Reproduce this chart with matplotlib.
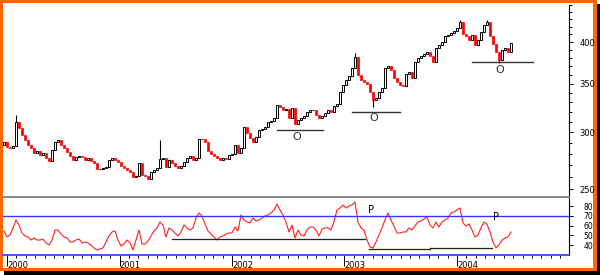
import numpy as np
import matplotlib

matplotlib.use("Agg")
import matplotlib.pyplot as plt
from matplotlib.patches import Rectangle
from matplotlib.ticker import FixedLocator, NullFormatter

# Price closes, roughly every 10 days from early 2000 to mid 2004
closes = [
    290.6, 286.1, 285.1, 287.0, 309.8, 304.0, 297.2, 292.5, 287.9, 285.1,
    280.6, 282.4, 278.8, 280.6, 276.2, 273.5, 283.3, 290.6, 292.5, 287.9,
    285.1, 281.5, 277.9, 274.4, 277.0, 277.9, 277.0, 274.4, 276.2, 273.5,
    271.8, 266.7, 266.7, 267.5, 268.4, 274.4, 276.2, 274.4, 272.7, 269.2,
    267.5, 265.8, 264.1, 259.9, 260.8, 271.8, 261.6, 260.8, 258.3, 264.1,
    265.8, 267.5, 275.3, 276.2, 268.4, 274.4, 271.8, 269.2, 267.5, 269.2,
    272.7, 276.2, 277.9, 274.4, 276.2, 293.4, 293.4, 290.6, 282.4, 279.7,
    277.9, 276.2, 274.4, 276.2, 275.3, 278.8, 279.7, 287.9, 280.6, 285.1,
    304.9, 299.1, 294.4, 290.6, 295.3, 302.0, 303.0, 304.9, 309.8, 310.8,
    313.8, 327.1, 325.1, 322.0, 323.0, 313.8, 324.0, 307.9, 311.8, 313.8,
    315.9, 320.0, 322.0, 322.0, 316.9, 313.8, 315.9, 318.9, 322.0, 320.0,
    326.1, 328.2, 341.0, 348.7, 354.3, 358.9, 368.2, 381.3, 360.0, 354.3,
    352.1, 349.8, 341.0, 332.4, 334.6, 341.0, 345.4, 368.2, 370.5, 365.8,
    356.6, 352.1, 348.7, 347.6, 361.2, 363.5, 356.6, 375.2, 380.0, 382.5,
    384.9, 387.4, 382.5, 375.2, 392.4, 396.2, 400.0, 407.7, 409.0, 411.6,
    414.3, 418.3, 426.4, 410.3, 407.7, 402.6, 409.0, 396.2, 402.6, 413.0,
    422.3, 426.4, 407.7, 397.5, 387.4, 377.6, 389.9, 392.4, 387.4, 398.7,
]
first_open = 288.0

# RSI oscillator, same dates
rsi = [
    54.5, 48.4, 50.4, 57.6, 65.7, 60.6, 52.5, 49.4, 48.4, 45.3,
    47.4, 45.3, 45.3, 46.3, 42.3, 40.2, 45.3, 55.5, 55.5, 51.4,
    48.4, 47.4, 43.3, 43.3, 45.3, 46.3, 42.3, 43.3, 42.3, 40.2,
    37.2, 35.1, 36.1, 37.2, 43.3, 49.4, 53.5, 54.5, 45.3, 39.2,
    41.2, 45.3, 42.3, 35.1, 45.3, 55.5, 41.2, 41.2, 44.3, 49.4,
    54.5, 57.6, 63.7, 60.6, 48.4, 57.6, 55.5, 52.5, 49.4, 53.5,
    60.6, 57.6, 55.5, 57.6, 67.8, 72.9, 69.8, 61.6, 54.5, 51.4,
    48.4, 45.3, 48.4, 49.4, 51.4, 52.5, 52.5, 58.6, 54.5, 70.8,
    65.7, 63.7, 62.7, 67.8, 64.7, 65.7, 67.8, 69.8, 70.8, 72.9,
    75.9, 82.0, 75.9, 70.8, 63.7, 53.5, 60.6, 47.4, 55.5, 50.4,
    49.4, 55.5, 58.6, 58.6, 55.5, 49.4, 56.5, 57.6, 57.6, 55.5,
    63.7, 75.9, 78.0, 81.0, 78.0, 80.0, 81.0, 84.1, 63.7, 57.6,
    55.5, 45.3, 38.2, 37.2, 43.3, 50.4, 57.6, 65.7, 72.9, 65.7,
    59.6, 52.5, 52.5, 53.5, 53.5, 57.6, 55.5, 59.6, 63.7, 64.7,
    66.7, 68.8, 60.6, 57.6, 63.7, 58.6, 63.7, 65.7, 67.8, 72.9,
    73.9, 75.9, 78.0, 62.7, 59.6, 61.6, 55.5, 48.4, 50.4, 57.6,
    63.7, 61.6, 53.5, 43.3, 37.2, 40.2, 45.3, 47.4, 48.4, 53.5,
]

start_year, end_year = 1999.973, 2004.48

# notable wicks (candle index, price)
spike_high_idx = [4, 52, 117, 152, 161]
spike_high = [317.0, 292.5, 386.0, 429.0, 429.0]
spike_low_idx = [123, 165]
spike_low = [325.0, 374.0]

# support lines on price: (start, end, level), "O" label (x, y)
price_lines = [(2002.40, 2002.81, 302.0), (2003.07, 2003.49, 320.0), (2004.13, 2004.68, 375.0)]
price_marks = [(2002.578, 295.5), (2003.262, 314.0), (2004.382, 366.0)]
# support lines on RSI and "P" labels
rsi_lines = [(2001.467, 2003.182, 46.3), (2003.218, 2003.76, 36.1), (2003.76, 2004.311, 37.1)]
rsi_marks = [(2003.236, 76.0), (2004.347, 69.0)]

years = [2000, 2001, 2002, 2003, 2004]
price_ticks = [250, 300, 350, 400]
rsi_ticks = [40, 50, 60, 70, 80]

W, H = 600, 275
fig = plt.figure(figsize=(W / 100, H / 100), dpi=100, facecolor="white")

# orange frame with black drop shadow
fig.add_artist(Rectangle((4 / W, 0), 596 / W, 271 / H, transform=fig.transFigure,
                         facecolor="black", edgecolor="none", zorder=-3))
fig.add_artist(Rectangle((0, 4 / H), 597 / W, 271 / H, transform=fig.transFigure,
                         facecolor="#ff6600", edgecolor="none", zorder=-2))
fig.add_artist(Rectangle((3 / W, 7 / H), 590 / W, 265 / H, transform=fig.transFigure,
                         facecolor="white", edgecolor="none", zorder=-1))

left, width = 3 / W, 566 / W
ax = fig.add_axes([left, 1 - 197 / H, width, 192 / H])
ax_rsi = fig.add_axes([left, 1 - 255 / H, width, 58 / H])
for a in (ax, ax_rsi):
    a.set_facecolor("none")
    a.set_xlim(1999.964, 2004.996)

# --- candles ---
dates = np.linspace(start_year, end_year, len(closes))
closes = np.array(closes)
opens = np.concatenate([[first_open], closes[:-1]])
up = closes >= opens
body_w = 0.018
ax.bar(dates[up], closes[up] - opens[up], bottom=opens[up], width=body_w,
       facecolor="white", edgecolor="black", linewidth=0.7)
ax.bar(dates[~up], opens[~up] - closes[~up], bottom=closes[~up], width=body_w,
       facecolor="#ff0000", edgecolor="#ff0000", linewidth=0.5)
for i, hi in zip(spike_high_idx, spike_high):
    ax.vlines(dates[i], max(opens[i], closes[i]), hi, color="black", lw=0.8)
for i, lo in zip(spike_low_idx, spike_low):
    ax.vlines(dates[i], lo, min(opens[i], closes[i]), color="black", lw=0.8)

for x0, x1, lvl in price_lines:
    ax.plot([x0, x1], [lvl, lvl], color="#333333", lw=1)
for x, y in price_marks:
    ax.text(x, y, "O", ha="center", va="center", fontsize=8, color="#333333")

ax.set_yscale("log")
ax.set_ylim(243.8, 450.2)
ax.yaxis.tick_right()
ax.yaxis.set_major_locator(FixedLocator(price_ticks))
ax.yaxis.set_minor_locator(FixedLocator(np.arange(250, 451, 10)))
ax.yaxis.set_minor_formatter(NullFormatter())
ax.set_yticklabels([str(t) for t in price_ticks])
ax.tick_params(axis="y", which="major", length=3, width=0.7, pad=4.3, labelsize=6)
ax.tick_params(axis="y", which="minor", length=2, width=0.7)
ax.set_xticks([])
for s in ("left", "top", "bottom"):
    ax.spines[s].set_visible(False)
ax.spines["right"].set_linewidth(0.8)

# --- RSI ---
ax_rsi.plot(dates, rsi, color="#ff2020", lw=0.8)
ax_rsi.axhline(70, color="#3333ff", lw=1)
for x0, x1, lvl in rsi_lines:
    ax_rsi.plot([x0, x1], [lvl, lvl], color="#222222", lw=0.9)
for x, y in rsi_marks:
    ax_rsi.text(x, y, "P", ha="center", va="center", fontsize=7, color="black")

ax_rsi.set_ylim(30, 89.2)
ax_rsi.yaxis.tick_right()
ax_rsi.set_yticks(rsi_ticks)
ax_rsi.tick_params(axis="y", length=3, width=0.7, pad=7.5, labelsize=5.5)
ax_rsi.spines["left"].set_visible(False)
ax_rsi.spines["top"].set_color("#808080")
ax_rsi.spines["top"].set_linewidth(1.3)
ax_rsi.spines["bottom"].set_color("#3333ff")
ax_rsi.spines["bottom"].set_linewidth(1.2)
ax_rsi.spines["right"].set_linewidth(0.8)

ax_rsi.set_xticks(years)
ax_rsi.set_xticklabels([str(y) for y in years], ha="left")
ax_rsi.xaxis.set_minor_locator(FixedLocator(
    [y + m / 12 for y in range(1999, 2005) for m in range(1, 12)]))
ax_rsi.tick_params(axis="x", which="major", length=8, width=0.7, pad=-3.5,
                   labelsize=6, color="black")
ax_rsi.tick_params(axis="x", which="minor", length=2.5, width=0.7, color="black")

fig.savefig("out.png", dpi=100, facecolor="white")
